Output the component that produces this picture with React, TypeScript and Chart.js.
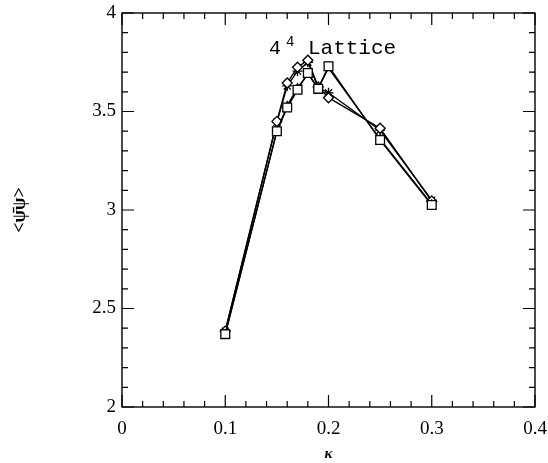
import React, { useEffect, useRef } from "react";
import { Chart, registerables } from "chart.js";

Chart.register(...registerables);

const kappa = [0.1, 0.15, 0.16, 0.17, 0.18, 0.19, 0.2, 0.25, 0.3];
const squareSeries = [2.37, 3.4, 3.52, 3.61, 3.695, 3.615, 3.73, 3.355, 3.025];
const triangleSeries = [2.37, 3.4, 3.53, 3.62, 3.69, 3.62, 3.72, 3.36, 3.03];
const diamondSeries = [2.385, 3.45, 3.645, 3.725, 3.76, 3.625, 3.57, 3.415, 3.045];
const starSeries = [2.385, 3.445, 3.63, 3.705, 3.75, 3.62, 3.595, 3.405, 3.05];

const xMajorTicks = [0, 0.1, 0.2, 0.3, 0.4];
const xTickLabels = ["0", "0.1", "0.2", "0.3", "0.4"];
const yMajorTicks = [2, 2.5, 3, 3.5, 4];
const yTickLabels = ["2", "2.5", "3", "3.5", "4"];
const xMinorStep = 0.02;
const yMinorStep = 0.1;

const SERIF = "'Liberation Serif', 'DejaVu Serif', serif";
const MONO = "'Liberation Mono', 'DejaVu Sans Mono', monospace";

const framePlugin = {
  id: "frameTicks",
  afterDatasetsDraw(chart: any) {
    const { ctx, chartArea, scales } = chart;
    const { left, right, top, bottom } = chartArea;
    const xs = scales.x;
    const ys = scales.y;
    ctx.save();
    ctx.strokeStyle = "#000";
    ctx.lineWidth = 1.4;
    ctx.strokeRect(left, top, right - left, bottom - top);
    ctx.lineWidth = 1.2;
    ctx.beginPath();
    const nx = Math.round((xs.max - xs.min) / xMinorStep);
    for (let i = 0; i <= nx; i++) {
      const v = xs.min + i * xMinorStep;
      const major = xMajorTicks.some((t) => Math.abs(t - v) < 1e-9);
      const len = major ? 12 : 6;
      const px = xs.getPixelForValue(v);
      ctx.moveTo(px, bottom);
      ctx.lineTo(px, bottom - len);
      ctx.moveTo(px, top);
      ctx.lineTo(px, top + len);
    }
    const ny = Math.round((ys.max - ys.min) / yMinorStep);
    for (let i = 0; i <= ny; i++) {
      const v = ys.min + i * yMinorStep;
      const major = yMajorTicks.some((t) => Math.abs(t - v) < 1e-9);
      const len = major ? 12 : 6;
      const py = ys.getPixelForValue(v);
      ctx.moveTo(left, py);
      ctx.lineTo(left + len, py);
      ctx.moveTo(right, py);
      ctx.lineTo(right - len, py);
    }
    ctx.stroke();

    // annotation "4^4 Lattice"
    ctx.fillStyle = "#000";
    ctx.textBaseline = "alphabetic";
    ctx.textAlign = "left";
    const bx = xs.getPixelForValue(0.1423);
    const by = ys.getPixelForValue(3.79);
    ctx.font = `20px ${MONO}`;
    ctx.fillText("4", bx, by);
    ctx.font = `14px ${MONO}`;
    ctx.fillText("4", bx + 17, by - 8);
    ctx.font = `21px ${MONO}`;
    ctx.fillText("Lattice", bx + 39, by);
    ctx.restore();
  },
};

export default function App() {
  const ref = useRef<HTMLCanvasElement | null>(null);
  useEffect(() => {
    if (!ref.current) return;
    const common = {
      borderColor: "#000",
      borderWidth: 1.4,
      pointBorderColor: "#000",
      pointBackgroundColor: "#fff",
      pointBorderWidth: 1.3,
      tension: 0,
      fill: false,
      showLine: true,
    };
    const mk = (arr: number[]) => kappa.map((k, i) => ({ x: k, y: arr[i] }));
    const chart = new Chart(ref.current, {
      type: "scatter",
      data: {
        datasets: [
          { ...common, label: "squares", data: mk(squareSeries), pointStyle: "rect", pointRadius: 6.2 },
          { ...common, label: "triangles", data: mk(triangleSeries), pointStyle: "triangle", pointRadius: 4 },
          { ...common, label: "diamonds", data: mk(diamondSeries), pointStyle: "rectRot", pointRadius: 5 },
          { ...common, label: "stars", data: mk(starSeries), pointStyle: "star", pointRadius: 5 },
        ],
      },
      options: {
        animation: false,
        responsive: false,
        maintainAspectRatio: false,
        layout: { padding: { top: 13, right: 13, left: 0, bottom: 0 } },
        plugins: { legend: { display: false }, tooltip: { enabled: false } },
        scales: {
          x: {
            type: "linear",
            min: 0,
            max: 0.4,
            afterFit: (s: any) => {
              s.height = 56;
              s.paddingLeft = 0;
              s.paddingRight = 0;
            },
            afterBuildTicks: (s: any) => { s.ticks = xMajorTicks.map((v) => ({ value: v })); },
            grid: { display: false, drawTicks: false },
            border: { display: false },
            ticks: {
              padding: 11,
              color: "#000",
              font: { family: SERIF, size: 19 },
              callback: (v: any) => {
                const i = xMajorTicks.findIndex((t) => Math.abs(t - Number(v)) < 1e-9);
                return i >= 0 ? xTickLabels[i] : "";
              },
              maxRotation: 0,
            },
            title: {
              display: true,
              text: "κ",
              color: "#000",
              font: { family: SERIF, size: 15, style: "italic", weight: "bold" },
              padding: { top: 0, bottom: 0 },
            },
          },
          y: {
            type: "linear",
            min: 2,
            max: 4,
            afterFit: (s: any) => {
              s.width = 122;
              s.paddingTop = 0;
              s.paddingBottom = 0;
            },
            afterBuildTicks: (s: any) => { s.ticks = yMajorTicks.map((v) => ({ value: v })); },
            grid: { display: false, drawTicks: false },
            border: { display: false },
            ticks: {
              padding: 6,
              color: "#000",
              font: { family: SERIF, size: 19 },
              callback: (v: any) => {
                const i = yMajorTicks.findIndex((t) => Math.abs(t - Number(v)) < 1e-9);
                return i >= 0 ? yTickLabels[i] : "";
              },
            },
            title: {
              display: true,
              text: "<\u03C8\u0304\u03C8>",
              color: "#000",
              font: { family: SERIF, size: 18, weight: "bold" },
              padding: { top: 10, bottom: 0 },
            },
          },
        },
      },
      plugins: [framePlugin],
    } as any);
    return () => chart.destroy();
  }, []);
  return (
    <div style={{ position: "absolute", left: 0, top: 0, width: 548, height: 463, background: "#fff" }}>
      <canvas ref={ref} width={548} height={463} style={{ display: "block", width: 548, height: 463 }} />
    </div>
  );
}
